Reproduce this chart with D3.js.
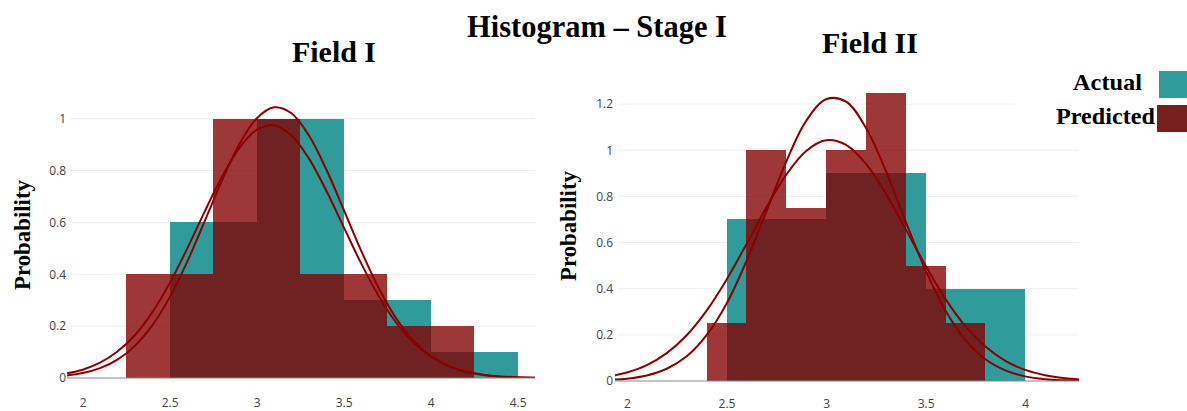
<!DOCTYPE html>
<html>
<head>
<meta charset="utf-8">
<script src="https://cdn.jsdelivr.net/npm/d3@7"></script>
<style>
  body { margin: 0; background: #fff; }
  svg { display: block; }
  .tick text { font-family: "Open Sans", sans-serif; font-size: 12px; fill: #444; }
  .grid line { stroke: #eee; stroke-width: 1; }
  .ttl { font-family: "Liberation Serif", "Times New Roman", serif; font-weight: bold; fill: #000; }
</style>
</head>
<body>
<svg id="chart" width="1187" height="411"></svg>
<script>
// Field I : bins of width 0.5
const fieldIBinWidth = 0.5;
const fieldIActualStart = [2.5, 3.0, 3.5, 4.0];
const fieldIActualProb = [0.6, 1.0, 0.3, 0.1];
const fieldIPredStart = [2.25, 2.75, 3.25, 3.75];
const fieldIPredProb = [0.4, 1.0, 0.4, 0.2];

// Field I : fitted curves
const fieldICurveX = [1.9, 2.0, 2.1, 2.2, 2.3, 2.4, 2.5, 2.6, 2.7, 2.8, 2.9, 3.0, 3.1, 3.2,
  3.3, 3.4, 3.5, 3.6, 3.7, 3.8, 3.9, 4.0, 4.1, 4.2, 4.3, 4.4, 4.5, 4.6];
const fieldICurvePred = [0.009, 0.019, 0.038, 0.071, 0.124, 0.203, 0.311, 0.447, 0.602, 0.760,
  0.901, 1.001, 1.044, 1.021, 0.936, 0.805, 0.650, 0.492, 0.349, 0.232, 0.145, 0.085, 0.047,
  0.024, 0.012, 0.005, 0.002, 0.001];
const fieldICurveActual = [0.017, 0.032, 0.059, 0.102, 0.165, 0.253, 0.366, 0.498, 0.640, 0.775,
  0.887, 0.957, 0.974, 0.935, 0.847, 0.723, 0.583, 0.443, 0.318, 0.215, 0.137, 0.083, 0.047,
  0.025, 0.013, 0.006, 0.003, 0.001];

// Field II : actual bins 0.5 wide, predicted bins 0.2 wide
const fieldIIActualWidth = 0.5;
const fieldIIActualStart = [2.5, 3.0, 3.5];
const fieldIIActualProb = [0.7, 0.9, 0.4];
const fieldIIPredWidth = 0.2;
const fieldIIPredStart = [2.4, 2.6, 2.8, 3.0, 3.2, 3.4, 3.6];
const fieldIIPredProb = [0.25, 1.0, 0.75, 1.0, 1.25, 0.5, 0.25];

const fieldIICurveX = [1.94, 2.0, 2.1, 2.2, 2.3, 2.4, 2.5, 2.6, 2.7, 2.8, 2.9, 3.0, 3.1, 3.2,
  3.3, 3.4, 3.5, 3.6, 3.7, 3.8, 3.9, 4.0, 4.1, 4.2, 4.27];
const fieldIICurvePred = [0.006, 0.010, 0.024, 0.053, 0.107, 0.199, 0.335, 0.519, 0.735, 0.951,
  1.127, 1.221, 1.211, 1.097, 0.910, 0.690, 0.479, 0.304, 0.177, 0.094, 0.046, 0.020, 0.008,
  0.003, 0.001];
const fieldIICurveActual = [0.025, 0.037, 0.069, 0.121, 0.198, 0.305, 0.439, 0.593, 0.752, 0.894,
  0.997, 1.043, 1.023, 0.941, 0.812, 0.657, 0.499, 0.355, 0.237, 0.149, 0.087, 0.048, 0.025,
  0.012, 0.007];

const fieldIXTicks = [2, 2.5, 3, 3.5, 4, 4.5];
const fieldIYTicks = [0, 0.2, 0.4, 0.6, 0.8, 1];
const fieldIIXTicks = [2, 2.5, 3, 3.5, 4];
const fieldIIYTicks = [0, 0.2, 0.4, 0.6, 0.8, 1, 1.2];

const legendNames = ["Actual", "Predicted"];

const teal = "rgb(48,155,155)";
const red = "rgb(131,0,0)";
const lineRed = "rgb(140,0,0)";

const svg = d3.select("#chart");

// bold serif label stretched to the width seen in the picture
function serifText(x, y, size, width, anchor, txt) {
  return svg.append("text").attr("class", "ttl")
    .attr("x", x).attr("y", y)
    .attr("text-anchor", anchor)
    .style("font-size", size + "px")
    .attr("textLength", width)
    .attr("lengthAdjust", "spacingAndGlyphs")
    .text(txt);
}

function drawPanel(o) {
  const x = d3.scaleLinear().domain(o.xDomain).range([o.left, o.right]);
  const y = d3.scaleLinear().domain(o.yDomain).range([o.bottom, o.top]);
  const g = svg.append("g");

  const clipId = "clip" + o.id;
  g.append("clipPath").attr("id", clipId)
    .append("rect")
    .attr("x", o.left).attr("y", o.top - 20)
    .attr("width", o.right - o.left).attr("height", o.bottom - o.top + 20);

  // gridlines
  g.append("g").attr("class", "grid")
    .selectAll("line").data(o.yTicks.filter(d => d > 0))
    .enter().append("line")
    .attr("x1", o.gridLeft).attr("x2", o.right)
    .attr("y1", d => y(d)).attr("y2", d => y(d));

  // y labels
  g.append("g")
    .attr("transform", `translate(${o.left},0)`)
    .call(d3.axisLeft(y).tickValues(o.yTicks).tickFormat(d => String(d)).tickSize(0).tickPadding(o.yPad))
    .call(a => a.select(".domain").remove());

  // x labels
  g.append("g")
    .attr("transform", `translate(0,${o.bottom})`)
    .call(d3.axisBottom(x).tickValues(o.xTicks).tickFormat(d => String(d)).tickSize(0).tickPadding(o.xPad))
    .call(a => a.select(".domain").remove());

  const bars = g.append("g").attr("clip-path", `url(#${clipId})`);

  bars.selectAll("rect.actual")
    .data(o.actualStart.map((s, i) => ({ s: s, p: o.actualProb[i] })))
    .enter().append("rect").attr("class", "actual")
    .attr("x", d => x(d.s))
    .attr("width", d => x(d.s + o.actualWidth) - x(d.s))
    .attr("y", d => y(d.p))
    .attr("height", d => y(0) - y(d.p))
    .attr("shape-rendering", "crispEdges")
    .attr("fill", teal);

  bars.selectAll("rect.pred")
    .data(o.predStart.map((s, i) => ({ s: s, p: o.predProb[i] })))
    .enter().append("rect").attr("class", "pred")
    .attr("x", d => Math.round(x(d.s)))
    .attr("width", d => Math.round(x(d.s + o.predWidth)) - Math.round(x(d.s)))
    .attr("y", d => y(d.p))
    .attr("height", d => y(0) - y(d.p))
    .attr("shape-rendering", "crispEdges")
    .attr("fill", red)
    .attr("fill-opacity", 0.78);

  // zero line
  g.append("line")
    .attr("x1", o.left).attr("x2", o.right)
    .attr("y1", y(0)).attr("y2", y(0))
    .attr("stroke", "#888").attr("stroke-width", 1);

  const line = d3.line()
    .x(d => x(d[0])).y(d => y(d[1]))
    .curve(d3.curveCatmullRom);

  [o.curveA, o.curveB].forEach(c => {
    bars.append("path")
      .datum(o.curveX.map((v, i) => [v, c[i]]))
      .attr("d", line)
      .attr("fill", "none")
      .attr("stroke", lineRed)
      .attr("stroke-width", 2);
  });

  svg.append("text").attr("class", "ttl")
    .attr("transform", `translate(${o.yTitleX},${o.yTitleY}) rotate(-90)`)
    .attr("text-anchor", "middle")
    .style("font-size", "23px")
    .attr("textLength", 110)
    .attr("lengthAdjust", "spacingAndGlyphs")
    .text("Probability");

  serifText(o.titleX, o.titleY, 29, o.titleW, "middle", o.title);
}

drawPanel({
  id: 1, title: "Field I", titleX: 334, titleY: 62, titleW: 84,
  left: 67, right: 535, top: 98, bottom: 378, gridLeft: 70,
  xDomain: [1.91, 4.6], yDomain: [0, 1.08],
  xTicks: fieldIXTicks, yTicks: fieldIYTicks, yPad: 1, xPad: 20,
  actualStart: fieldIActualStart, actualProb: fieldIActualProb, actualWidth: fieldIBinWidth,
  predStart: fieldIPredStart, predProb: fieldIPredProb, predWidth: fieldIBinWidth,
  curveX: fieldICurveX, curveA: fieldICurvePred, curveB: fieldICurveActual,
  yTitleX: 30, yTitleY: 235
});

drawPanel({
  id: 2, title: "Field II", titleX: 870, titleY: 53, titleW: 96,
  left: 615, right: 1079, top: 81, bottom: 381, gridLeft: 618,
  xDomain: [1.94, 4.27], yDomain: [0, 1.3],
  xTicks: fieldIIXTicks, yTicks: fieldIIYTicks, yPad: 2, xPad: 18,
  actualStart: fieldIIActualStart, actualProb: fieldIIActualProb, actualWidth: fieldIIActualWidth,
  predStart: fieldIIPredStart, predProb: fieldIIPredProb, predWidth: fieldIIPredWidth,
  curveX: fieldIICurveX, curveA: fieldIICurvePred, curveB: fieldIICurveActual,
  yTitleX: 576, yTitleY: 226
});

serifText(597, 37, 31, 260, "middle", "Histogram – Stage I");

// legend
const legend = svg.append("g");
legend.append("rect")
  .attr("x", 1015).attr("y", 62).attr("width", 172).attr("height", 72)
  .attr("fill", "#fff");
const legendColors = [teal, "rgb(118,32,32)"];
const legendTextX = [1142, 1155];
const legendTextW = [69, 99];
const legendY = [90, 124];
legendNames.forEach((name, i) => {
  serifText(legendTextX[i], legendY[i], 23, legendTextW[i], "end", name);
  legend.append("rect")
    .attr("x", i === 0 ? 1159 : 1157).attr("y", legendY[i] - 19)
    .attr("width", 30).attr("height", 27)
    .attr("fill", legendColors[i]);
});
</script>
</body>
</html>
